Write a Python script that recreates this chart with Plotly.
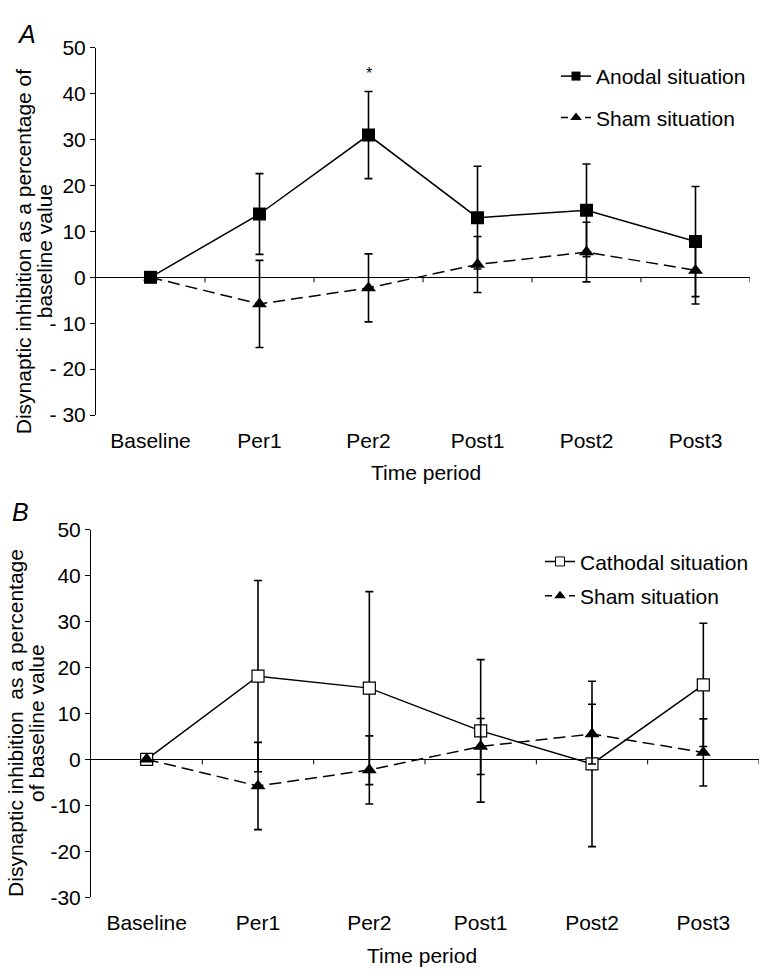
import plotly.graph_objects as go

# ---------------- data ----------------
periods = ["Baseline", "Per1", "Per2", "Post1", "Post2", "Post3"]

anodal = [0, 13.8, 31.0, 13.0, 14.6, 7.8]
anodal_err = [0, 8.8, 9.5, 11.2, 10.1, 12.0]

sham = [0, -5.8, -2.3, 2.8, 5.5, 1.5]
sham_err = [0, 9.5, 7.4, 6.1, 6.5, 7.3]

cathodal = [0, 18.1, 15.5, 6.2, -1.0, 16.2]
cathodal_err = [0, 20.8, 21.0, 15.5, 18.0, 13.4]

ytick_vals = [-30, -20, -10, 0, 10, 20, 30, 40, 50]
ytick_text_a = ["- 30", "- 20", "- 10", "0", "10", "20", "30", "40", "50"]
ytick_text_b = ["-30", "-20", "-10", "0", "10", "20", "30", "40", "50"]

# ---------------- figure ----------------
W, H = 763, 980
FONT = "Liberation Sans, Arial, Helvetica, sans-serif"
FS = 21

fig = go.Figure()

def err(arr):
    return dict(type="data", array=arr, visible=True, color="black",
                thickness=1.6, width=4)

SOLID = dict(color="black", width=1.5)
DASHED = dict(color="black", width=1.5, dash="12px,6px")
SQ_FILLED = dict(symbol="square", size=13, color="black")
TRI = dict(symbol="triangle-up", size=13, color="black")
SQ_OPEN = dict(symbol="square", size=12, color="white",
               line=dict(color="black", width=1.2))

# Panel A
fig.add_trace(go.Scatter(
    x=periods, y=anodal, error_y=err(anodal_err),
    mode="lines+markers", line=SOLID, marker=SQ_FILLED,
    xaxis="x", yaxis="y", showlegend=False))
fig.add_trace(go.Scatter(
    x=periods, y=sham, error_y=err(sham_err),
    mode="lines+markers", line=DASHED, marker=TRI,
    xaxis="x", yaxis="y", showlegend=False))

# Panel B
fig.add_trace(go.Scatter(
    x=periods, y=cathodal, error_y=err(cathodal_err),
    mode="lines+markers", line=SOLID, marker=SQ_OPEN,
    xaxis="x2", yaxis="y2", showlegend=False))
fig.add_trace(go.Scatter(
    x=periods, y=sham, error_y=err(sham_err),
    mode="lines+markers", line=DASHED, marker=TRI,
    xaxis="x2", yaxis="y2", showlegend=False))

# legend entries (smaller symbols, as in the original)
def legend_entry(name, line, marker, legend, group, xa, ya):
    m = dict(marker)
    m["size"] = 9 if m["symbol"] == "square" else 10
    if "line" in m:
        m["line"] = dict(color="black", width=1)
    ln = dict(line)
    if "dash" in ln:
        ln["dash"] = "7px,5px"
    fig.add_trace(go.Scatter(
        x=[None], y=[None], mode="lines+markers", name=name,
        line=ln, marker=m, xaxis=xa, yaxis=ya,
        legend=legend, legendgroup=group, hoverinfo="skip"))

legend_entry("Anodal situation", SOLID, SQ_FILLED, "legend", "a1", "x", "y")
legend_entry("Sham situation", DASHED, TRI, "legend", "a2", "x", "y")
legend_entry("Cathodal situation", SOLID, SQ_OPEN, "legend2", "b1", "x2", "y2")
legend_entry("Sham situation", DASHED, TRI, "legend2", "b2", "x2", "y2")

def px_x(p):
    return p / W

def px_y(p):
    return 1 - p / H

xdom_a = [px_x(96), px_x(750)]
ydom_a = [px_y(412.7), px_y(36.7)]
xdom_b = [px_x(91), px_x(759)]
ydom_b = [px_y(906.5), px_y(530)]

def xaxis(dom, anchor):
    return dict(domain=dom, anchor=anchor, range=[-0.5, len(periods) - 0.5],
                type="category", categoryorder="array", categoryarray=periods,
                showline=False, showgrid=False, zeroline=False, ticks="",
                ticklabelstandoff=11,
                tickfont=dict(family=FONT, size=FS, color="black"))

def yaxis(dom, anchor, ttext):
    return dict(domain=dom, anchor=anchor, range=[-30, 50],
                tickvals=ytick_vals, ticktext=ttext,
                showline=True, linecolor="black", linewidth=1,
                ticks="outside", ticklen=5, tickcolor="black", tickwidth=1,
                showgrid=False, zeroline=True, zerolinecolor="black",
                zerolinewidth=1,
                tickfont=dict(family=FONT, size=FS, color="black"))

fig.update_layout(
    width=W, height=H,
    margin=dict(l=0, r=0, t=0, b=0),
    paper_bgcolor="white", plot_bgcolor="white",
    font=dict(family=FONT, color="black"),
    xaxis=xaxis(xdom_a, "y"),
    yaxis=yaxis(ydom_a, "x", ytick_text_a),
    xaxis2=xaxis(xdom_b, "y2"),
    yaxis2=yaxis(ydom_b, "x2", ytick_text_b),
    legend=dict(x=px_x(556), y=px_y(45), xanchor="left", yanchor="top",
                font=dict(family=FONT, size=FS, color="black"),
                bgcolor="rgba(0,0,0,0)", traceorder="grouped",
                tracegroupgap=11),
    legend2=dict(x=px_x(540), y=px_y(542), xanchor="left", yanchor="top",
                 font=dict(family=FONT, size=FS, color="black"),
                 bgcolor="rgba(0,0,0,0)", traceorder="grouped",
                 tracegroupgap=4),
    showlegend=True,
)

# x-axis tick marks on the zero line (category boundaries)
for xr, yr in (("x", "y"), ("x2", "y2")):
    for k in range(len(periods)):
        fig.add_shape(type="line", xref=xr, yref=yr,
                      x0=k + 0.5, x1=k + 0.5,
                      ysizemode="pixel", yanchor=0, y0=0, y1=-5,
                      line=dict(color="black", width=1))

annotations = [
    # panel letters
    dict(text="<i>A</i>", x=px_x(26), y=px_y(23)),
    dict(text="<i>B</i>", x=px_x(20), y=px_y(512)),
    # y-axis titles
    dict(text="Disynaptic inhibition as a percentage of", x=px_x(23),
         y=px_y(245), textangle=-90),
    dict(text="baseline value", x=px_x(44), y=px_y(245), textangle=-90),
    dict(text="Disynaptic inhibition\u00a0 as a percentage", x=px_x(16),
         y=px_y(728), textangle=-90),
    dict(text="of baseline value", x=px_x(37), y=px_y(728), textangle=-90),
    # x-axis titles
    dict(text="Time period", x=px_x(426), y=px_y(472)),
    dict(text="Time period", x=px_x(422), y=px_y(966)),
]
for a in annotations:
    size = 25 if a["text"].startswith("<i>") else FS
    fig.add_annotation(xref="paper", yref="paper", showarrow=False,
                       xanchor="center", yanchor="middle",
                       font=dict(family=FONT, size=size, color="black"), **a)

# significance asterisk above Per2 (panel A)
fig.add_annotation(xref="x", yref="y", x="Per2", y=44.5, text="*",
                   showarrow=False, yanchor="middle",
                   font=dict(family=FONT, size=16, color="black"))

fig.write_html("out.html")
